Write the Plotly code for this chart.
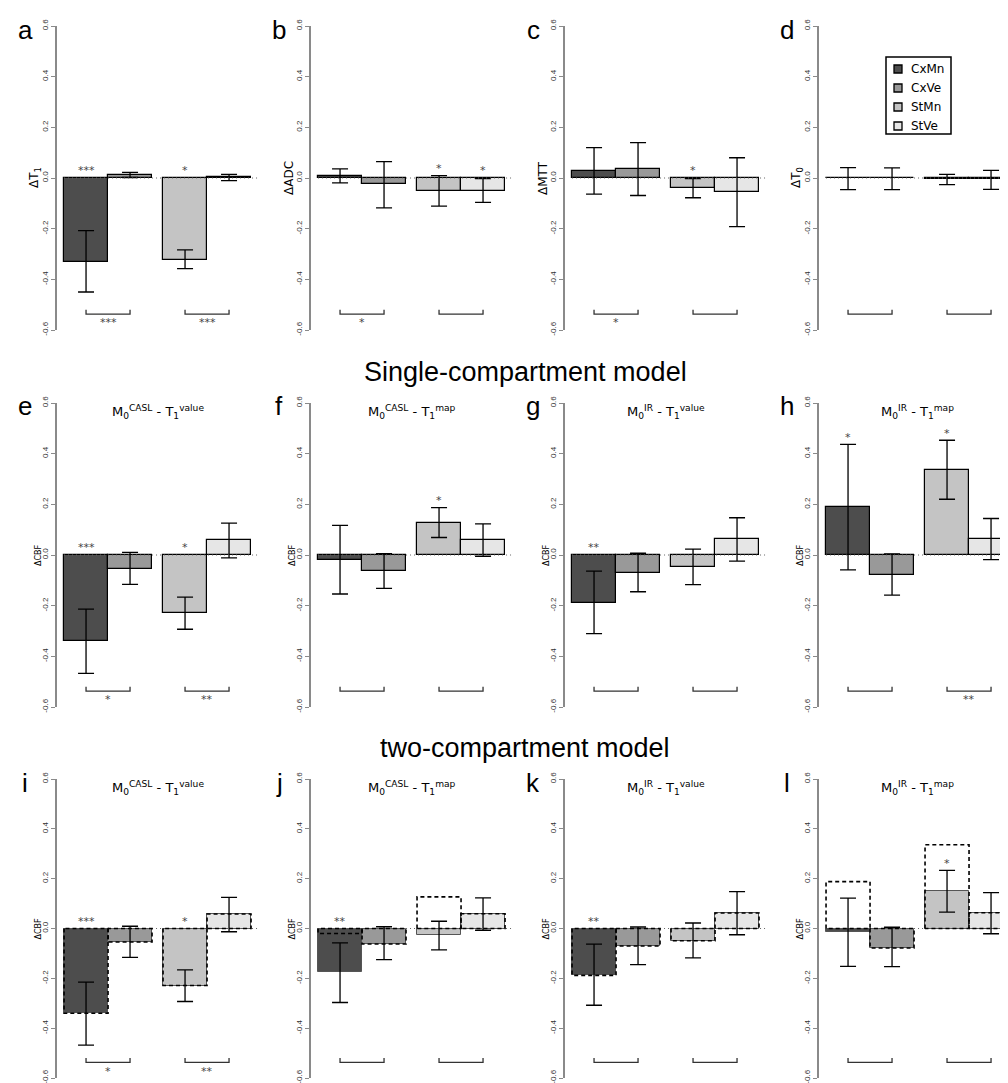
import plotly.graph_objects as go

# ---------------- data ----------------
CATEGORIES = ["CxMn", "CxVe", "StMn", "StVe"]
PANEL_LETTERS = ["a", "b", "c", "d", "e", "f", "g", "h", "i", "j", "k", "l"]
Y_TITLES = ["ΔT<sub>1</sub>", "ΔADC", "ΔMTT", "ΔT<sub>0</sub>",
            "ΔCBF", "ΔCBF", "ΔCBF", "ΔCBF",
            "ΔCBF", "ΔCBF", "ΔCBF", "ΔCBF"]
SUB_CASL_VALUE = "M<sub>0</sub><sup>CASL</sup> - T<sub>1</sub><sup>value</sup>"
SUB_CASL_MAP = "M<sub>0</sub><sup>CASL</sup> - T<sub>1</sub><sup>map</sup>"
SUB_IR_VALUE = "M<sub>0</sub><sup>IR</sup> - T<sub>1</sub><sup>value</sup>"
SUB_IR_MAP = "M<sub>0</sub><sup>IR</sup> - T<sub>1</sub><sup>map</sup>"
SUBTITLES = ["", "", "", "",
             SUB_CASL_VALUE, SUB_CASL_MAP, SUB_IR_VALUE, SUB_IR_MAP,
             SUB_CASL_VALUE, SUB_CASL_MAP, SUB_IR_VALUE, SUB_IR_MAP]
ROW_TITLES = ["Single-compartment model", "two-compartment model"]
TICK_VALUES = [-0.6, -0.4, -0.2, 0.0, 0.2, 0.4, 0.6]
TICK_LABELS = ["-0.6", "-0.4", "-0.2", "0.0", "0.2", "0.4", "0.6"]

# mean, upper and lower error-bar ends (order: CxMn, CxVe, StMn, StVe)
mean_a = [-0.330, 0.012, -0.322, 0.002]
hi_a = [-0.208, 0.022, -0.284, 0.014]
lo_a = [-0.450, 0.002, -0.358, -0.010]

mean_b = [0.008, -0.025, -0.052, -0.050]
hi_b = [0.036, 0.065, 0.009, -0.002]
lo_b = [-0.019, -0.118, -0.111, -0.096]

mean_c = [0.028, 0.036, -0.041, -0.056]
hi_c = [0.120, 0.140, -0.002, 0.080]
lo_c = [-0.064, -0.069, -0.078, -0.192]

mean_d = [0.001, 0.000, -0.004, -0.004]
hi_d = [0.041, 0.040, 0.014, 0.030]
lo_d = [-0.046, -0.046, -0.026, -0.045]

mean_e = [-0.340, -0.054, -0.229, 0.058]
hi_e = [-0.214, 0.010, -0.166, 0.126]
lo_e = [-0.467, -0.116, -0.293, -0.011]

mean_f = [-0.020, -0.062, 0.127, 0.059]
hi_f = [0.117, 0.005, 0.187, 0.123]
lo_f = [-0.154, -0.132, 0.069, -0.005]

mean_g = [-0.188, -0.070, -0.049, 0.062]
hi_g = [-0.064, 0.007, 0.023, 0.147]
lo_g = [-0.310, -0.145, -0.117, -0.024]

mean_h = [0.188, -0.078, 0.336, 0.063]
hi_h = [0.437, 0.004, 0.453, 0.144]
lo_h = [-0.059, -0.158, 0.220, -0.018]

mean_i = [-0.341, -0.054, -0.230, 0.058]
hi_i = [-0.215, 0.009, -0.166, 0.125]
lo_i = [-0.468, -0.116, -0.293, -0.013]

mean_j = [-0.176, -0.062, -0.028, 0.059]
hi_j = [-0.058, 0.007, 0.029, 0.123]
lo_j = [-0.297, -0.125, -0.086, -0.007]

mean_k = [-0.186, -0.070, -0.049, 0.062]
hi_k = [-0.063, 0.006, 0.022, 0.148]
lo_k = [-0.308, -0.145, -0.118, -0.025]

mean_l = [-0.013, -0.078, 0.151, 0.061]
hi_l = [0.122, 0.005, 0.233, 0.144]
lo_l = [-0.152, -0.153, 0.066, -0.021]

# significance marks above bars and under the CxMn-CxVe / StMn-StVe brackets
stars_a = ["***", "", "*", ""]
stars_b = ["", "", "*", "*"]
stars_c = ["", "", "*", ""]
stars_d = ["", "", "", ""]
stars_e = ["***", "", "*", ""]
stars_f = ["", "", "*", ""]
stars_g = ["**", "", "", ""]
stars_h = ["*", "", "*", ""]
stars_i = ["***", "", "*", ""]
stars_j = ["**", "", "", ""]
stars_k = ["**", "", "", ""]
stars_l = ["", "", "*", ""]

bracket_stars = [["***", "***"], ["*", ""], ["*", ""], ["", ""],
                 ["*", "**"], ["", ""], ["", ""], ["", "**"],
                 ["*", "**"], ["", ""], ["", ""], ["", ""]]

MEANS = [mean_a, mean_b, mean_c, mean_d, mean_e, mean_f, mean_g, mean_h,
         mean_i, mean_j, mean_k, mean_l]
HIS = [hi_a, hi_b, hi_c, hi_d, hi_e, hi_f, hi_g, hi_h, hi_i, hi_j, hi_k, hi_l]
LOS = [lo_a, lo_b, lo_c, lo_d, lo_e, lo_f, lo_g, lo_h, lo_i, lo_j, lo_k, lo_l]
STARS = [stars_a, stars_b, stars_c, stars_d, stars_e, stars_f, stars_g, stars_h,
         stars_i, stars_j, stars_k, stars_l]
# two-compartment panels show the single-compartment result as a dashed outline
OVERLAY_OF = {8: 4, 9: 5, 10: 6, 11: 7}

# ---------------- styling / geometry ----------------
COLORS = ["#4d4d4d", "#999999", "#c4c4c4", "#e6e6e6"]
W, H = 1008, 1083
AXIS_X = [49, 303, 557, 811]
ROW_TOP = [18, 395, 771]
ROW_BOT = [322, 699, 1070]
PX_PER_UNIT = 44.0
X0 = -0.16
GROUP_GAP = 0.25
X_POS = [g * (2 + GROUP_GAP) + b + 0.5 for g in range(2) for b in range(2)]
BR_Y, BR_TICK, BR_STAR = -0.537, -0.52, -0.56
SANS = "Liberation Sans, Arial, sans-serif"
DEJAVU = "DejaVu Sans, sans-serif"
# legend box (pixels) inside panel d
LEG_X0, LEG_X1, LEG_Y0, LEG_Y1 = 878, 943, 49, 126
LEG_ROW0, LEG_STEP = 61, 19

fig = go.Figure()
axes = {}
annotations = []
shapes = []

for p in range(12):
    r, c = divmod(p, 4)
    n = p + 1
    xa = "x" if n == 1 else f"x{n}"
    ya = "y" if n == 1 else f"y{n}"
    x_left = AXIS_X[c]
    x_right = min(x_left + 201, W)
    xr_end = X0 + (x_right - x_left) / PX_PER_UNIT
    axes["xaxis" if n == 1 else f"xaxis{n}"] = dict(
        domain=[x_left / W, x_right / W], range=[X0, xr_end], visible=False,
        anchor=ya, fixedrange=True, automargin=False)
    axes["yaxis" if n == 1 else f"yaxis{n}"] = dict(
        domain=[1 - ROW_BOT[r] / H, 1 - ROW_TOP[r] / H], range=[-0.6, 0.6],
        anchor=xa, showline=True, linecolor="#8a8a8a", linewidth=2,
        ticks="outside", ticklen=4, tickwidth=1, tickcolor="#8a8a8a",
        tickvals=TICK_VALUES, ticktext=TICK_LABELS, tickangle=-90,
        tickfont=dict(family=SANS, size=8, color="#333"),
        showgrid=False, zeroline=False, automargin=False, fixedrange=True)

    row3 = r == 2
    for k in range(4):
        m = MEANS[p][k]
        fig.add_trace(go.Bar(
            x=[X_POS[k]], y=[m], width=[1.0],
            marker=dict(color=COLORS[k],
                        line=dict(color="#555555" if row3 else "#000000",
                                  width=1.0 if row3 else 1.2)),
            error_y=dict(type="data", symmetric=False,
                         array=[HIS[p][k] - m], arrayminus=[m - LOS[p][k]],
                         color="black", thickness=1.3, width=8),
            name=CATEGORIES[k], showlegend=False,
            xaxis=xa, yaxis=ya, hoverinfo="skip"))

    # dotted zero line
    fig.add_trace(go.Scatter(
        x=[0, xr_end], y=[0, 0], mode="lines",
        line=dict(color="#666666", width=1, dash="1px,3px"),
        showlegend=False, xaxis=xa, yaxis=ya, hoverinfo="skip"))

    # dashed outlines of the single-compartment values
    if p in OVERLAY_OF:
        ref = MEANS[OVERLAY_OF[p]]
        ox, oy = [], []
        for k in range(4):
            xc = X_POS[k]
            ox += [xc - 0.5, xc - 0.5, xc + 0.5, xc + 0.5, xc - 0.5, None]
            oy += [0, ref[k], ref[k], 0, 0, None]
        fig.add_trace(go.Scatter(
            x=ox, y=oy, mode="lines",
            line=dict(color="black", width=1.6, dash="4px,3px"),
            showlegend=False, xaxis=xa, yaxis=ya, hoverinfo="skip"))

    # brackets between Mn/Ve pairs
    bx, by = [], []
    for g in range(2):
        x1, x2 = X_POS[2 * g], X_POS[2 * g + 1]
        bx += [x1, x1, x2, x2, None]
        by += [BR_TICK, BR_Y, BR_Y, BR_TICK, None]
    fig.add_trace(go.Scatter(
        x=bx, y=by, mode="lines", line=dict(color="#333333", width=1.3),
        showlegend=False, xaxis=xa, yaxis=ya, hoverinfo="skip"))
    for g in range(2):
        txt = bracket_stars[p][g]
        if txt:
            annotations.append(dict(
                x=(X_POS[2 * g] + X_POS[2 * g + 1]) / 2, y=BR_STAR, xref=xa, yref=ya,
                text=txt, showarrow=False, yshift=-3,
                font=dict(family=DEJAVU, size=11, color="#444")))

    # stars above bars
    for k in range(4):
        txt = STARS[p][k]
        if txt:
            annotations.append(dict(
                x=X_POS[k], y=max(0.0, HIS[p][k]) + 0.04, xref=xa, yref=ya,
                text=txt, showarrow=False, yshift=-3,
                font=dict(family=DEJAVU, size=11, color="#444")))

    # panel letter
    annotations.append(dict(
        x=(x_left - 32) / W, y=1 - (ROW_TOP[r] + 3.5) / H, xref="paper", yref="paper",
        text=PANEL_LETTERS[p], showarrow=False, xanchor="center", yanchor="middle",
        font=dict(family=SANS, size=26, color="black")))

    # y-axis title
    annotations.append(dict(
        x=(x_left - (22 if r == 0 else 19)) / W, y=0, xref="paper", yref=ya,
        text=Y_TITLES[p], showarrow=False, textangle=-90,
        xanchor="center", yanchor="middle",
        font=dict(family=DEJAVU, size=12 if r == 0 else 8, color="black")))

    # subtitle
    if SUBTITLES[p]:
        annotations.append(dict(
            x=0.5, y=1 - (ROW_TOP[r] + 9) / H, xref=f"{xa} domain", yref="paper",
            text=SUBTITLES[p], showarrow=False, xanchor="center", yanchor="middle",
            font=dict(family=DEJAVU, size=13, color="black")))

# row titles
for i, title in enumerate(ROW_TITLES):
    annotations.append(dict(
        x=517 / W, y=1 - (ROW_TOP[i + 1] - 31) / H, xref="paper", yref="paper",
        text=title, showarrow=False, xanchor="center", yanchor="middle",
        font=dict(family=SANS, size=27, color="black")))

# legend (drawn in panel d)
shapes.append(dict(type="rect", xref="paper", yref="paper",
                   x0=LEG_X0 / W, x1=LEG_X1 / W, y0=1 - LEG_Y1 / H, y1=1 - LEG_Y0 / H,
                   line=dict(color="black", width=1.5), fillcolor="white"))
for k, name in enumerate(CATEGORIES):
    yc = LEG_ROW0 + k * LEG_STEP
    shapes.append(dict(type="rect", xref="paper", yref="paper",
                       x0=886 / W, x1=894 / W, y0=1 - (yc + 4) / H, y1=1 - (yc - 4) / H,
                       line=dict(color="black", width=1.3), fillcolor=COLORS[k]))
    annotations.append(dict(
        x=901 / W, y=1 - yc / H, xref="paper", yref="paper", text=name,
        showarrow=False, xanchor="left", yanchor="middle",
        font=dict(family=DEJAVU, size=12, color="black")))

fig.update_layout(
    template="none",
    width=W, height=H, autosize=False,
    margin=dict(l=0, r=0, t=0, b=0, pad=0),
    paper_bgcolor="white", plot_bgcolor="rgba(0,0,0,0)",
    barmode="overlay", bargap=0,
    showlegend=False,
    annotations=annotations,
    shapes=shapes,
    **axes)

fig.write_html("out.html")
